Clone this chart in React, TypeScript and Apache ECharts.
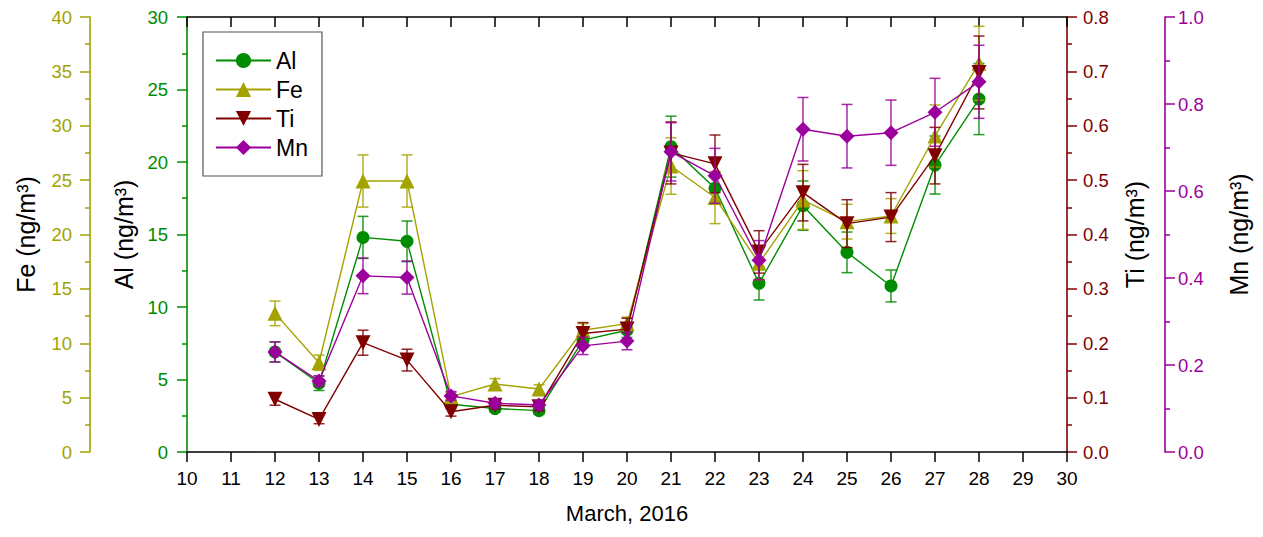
import React, { useEffect, useRef } from "react";
import * as echarts from "echarts";

const days = [12, 13, 14, 15, 16, 17, 18, 19, 20, 21, 22, 23, 24, 25, 26, 27, 28];

const alValues = [6.9, 4.74, 14.8, 14.53, 3.29, 3.0, 2.85, 7.72, 8.4, 21.06, 18.19, 11.63, 16.99, 13.77, 11.45, 19.79, 24.34];
const alErrors = [0.7, 0.5, 1.45, 1.4, 0.3, 0.25, 0.25, 0.5, 0.5, 2.1, 1.1, 1.15, 1.7, 1.4, 1.1, 2.0, 2.45];

const feValues = [12.75, 8.21, 24.92, 24.92, 5.09, 6.25, 5.79, 11.2, 11.8, 26.3, 23.4, 17.35, 23.17, 21.18, 21.7, 29.06, 35.74];
const feErrors = [1.13, 0.7, 2.4, 2.4, 0.4, 0.5, 0.4, 0.6, 0.6, 2.6, 2.4, 1.5, 2.7, 1.6, 1.6, 2.85, 3.4];

const tiValues = [0.097, 0.06, 0.201, 0.169, 0.074, 0.086, 0.083, 0.218, 0.226, 0.55, 0.53, 0.368, 0.477, 0.42, 0.432, 0.545, 0.698];
const tiErrors = [0.011, 0.008, 0.023, 0.02, 0.008, 0.007, 0.007, 0.02, 0.02, 0.057, 0.053, 0.039, 0.052, 0.044, 0.045, 0.052, 0.067];

const mnValues = [0.23, 0.163, 0.405, 0.401, 0.129, 0.112, 0.108, 0.244, 0.255, 0.69, 0.635, 0.441, 0.742, 0.726, 0.734, 0.781, 0.851];
const mnErrors = [0.023, 0.012, 0.041, 0.038, 0.01, 0.01, 0.01, 0.02, 0.02, 0.067, 0.063, 0.045, 0.073, 0.073, 0.075, 0.078, 0.084];

const FONT = "'Liberation Sans', Arial, sans-serif";

const GREEN = "#008c00";
const OLIVE = "#a3a300";
const DARKRED = "#800000";
const PURPLE = "#9c009c";

function seriesFor(
  name: string,
  values: number[],
  errors: number[],
  yIndex: number,
  color: string,
  symbol: string,
  symbolSize: number,
  symbolRotate: number,
  z: number
) {
  const line = {
    name,
    type: "line",
    yAxisIndex: yIndex,
    data: days.map((d, i) => [d, values[i]]),
    symbol,
    symbolSize,
    symbolRotate,
    showSymbol: true,
    color,
    itemStyle: { color, opacity: 1 },
    lineStyle: { color, width: 1.4 },
    z: z + 1,
  };
  const err = {
    name: name + "-err",
    type: "custom",
    yAxisIndex: yIndex,
    data: days.map((d, i) => [d, values[i] - errors[i], values[i] + errors[i]]),
    z,
    renderItem: (params: any, api: any) => {
      const x = api.value(0);
      const lo = api.coord([x, api.value(1)]);
      const hi = api.coord([x, api.value(2)]);
      const cap = 5.5;
      const style = { stroke: color, lineWidth: 1.5, opacity: 0.85 };
      return {
        type: "group",
        children: [
          { type: "line", shape: { x1: hi[0], y1: hi[1], x2: lo[0], y2: lo[1] }, style },
          { type: "line", shape: { x1: hi[0] - cap, y1: hi[1], x2: hi[0] + cap, y2: hi[1] }, style },
          { type: "line", shape: { x1: lo[0] - cap, y1: lo[1], x2: lo[0] + cap, y2: lo[1] }, style },
        ],
      };
    },
  };
  return [err, line];
}

function yAxisFor(
  position: string,
  offset: number,
  max: number,
  interval: number,
  color: string,
  name: string,
  nameGap: number,
  labelMargin: number,
  decimals: number
) {
  return {
    type: "value",
    position,
    offset,
    min: 0,
    max,
    interval,
    name,
    nameLocation: "middle",
    nameRotate: 90,
    nameGap,
    nameTextStyle: { color: "#000", fontSize: 25, fontFamily: FONT },
    axisLine: { show: true, onZero: false, lineStyle: { color, width: 1.6 } },
    axisTick: { show: true, inside: false, length: 10, lineStyle: { color, width: 1.5 } },
    minorTick: { show: true, splitNumber: 2, length: 5, lineStyle: { color, width: 1.5 } },
    axisLabel: {
      color,
      fontSize: 18.5,
      fontFamily: FONT,
      margin: labelMargin,
      formatter: (v: number) => v.toFixed(decimals),
    },
    splitLine: { show: false },
    minorSplitLine: { show: false },
  };
}

export default function App() {
  const ref = useRef<HTMLDivElement>(null);

  useEffect(() => {
    if (!ref.current) return;
    const chart = echarts.init(ref.current, null, { renderer: "svg" });

    const series = [
      ...seriesFor("Al", alValues, alErrors, 0, GREEN, "circle", 13, 0, 2),
      ...seriesFor("Fe", feValues, feErrors, 1, OLIVE, "triangle", 15, 0, 4),
      ...seriesFor("Ti", tiValues, tiErrors, 2, DARKRED, "triangle", 15, 180, 6),
      ...seriesFor("Mn", mnValues, mnErrors, 3, PURPLE, "diamond", 15, 0, 8),
    ];

    chart.setOption({
      animation: false,
      backgroundColor: "#fff",
      grid: { left: 187, right: 196, top: 17, bottom: 85, containLabel: false },
      legend: {
        data: ["Al", "Fe", "Ti", "Mn"],
        orient: "vertical",
        left: 203,
        top: 32,
        itemWidth: 55,
        itemHeight: 19,
        itemGap: 6,
        padding: [17, 14, 17, 12],
        borderColor: "#555",
        borderWidth: 1.2,
        selectedMode: false,
        textStyle: { color: "#000", fontSize: 23, fontFamily: FONT },
      },
      xAxis: [
        {
          type: "value",
          position: "bottom",
          min: 10,
          max: 30,
          interval: 1,
          name: "March, 2016",
          nameLocation: "middle",
          nameGap: 50,
          nameTextStyle: { color: "#000", fontSize: 22, fontFamily: FONT },
          axisLine: { show: true, onZero: false, lineStyle: { color: "#000", width: 1.6 } },
          axisTick: { show: true, inside: false, length: 10, lineStyle: { color: "#000", width: 1.5 } },
          axisLabel: { color: "#000", fontSize: 19, fontFamily: FONT, margin: 17 },
          splitLine: { show: false },
        },
        {
          type: "value",
          position: "top",
          min: 10,
          max: 30,
          interval: 1,
          axisLine: { show: true, onZero: false, lineStyle: { color: "#000", width: 1.6 } },
          axisTick: { show: true, inside: true, length: 10, lineStyle: { color: "#000", width: 1.5 } },
          axisLabel: { show: false },
          splitLine: { show: false },
        },
      ],
      yAxis: [
        yAxisFor("left", 0, 30, 5, GREEN, "Al (ng/m³)", 43, 19, 0),
        yAxisFor("left", 97, 40, 5, OLIVE, "Fe (ng/m³)", 52, 18, 0),
        yAxisFor("right", 0, 0.8, 0.1, DARKRED, "Ti (ng/m³)", 55, 16, 1),
        yAxisFor("right", 98, 1.0, 0.2, PURPLE, "Mn (ng/m³)", 61, 13, 1),
      ],
      series,
    });

    return () => chart.dispose();
  }, []);

  return <div ref={ref} style={{ width: 1263, height: 537, margin: -8 }} />;
}
